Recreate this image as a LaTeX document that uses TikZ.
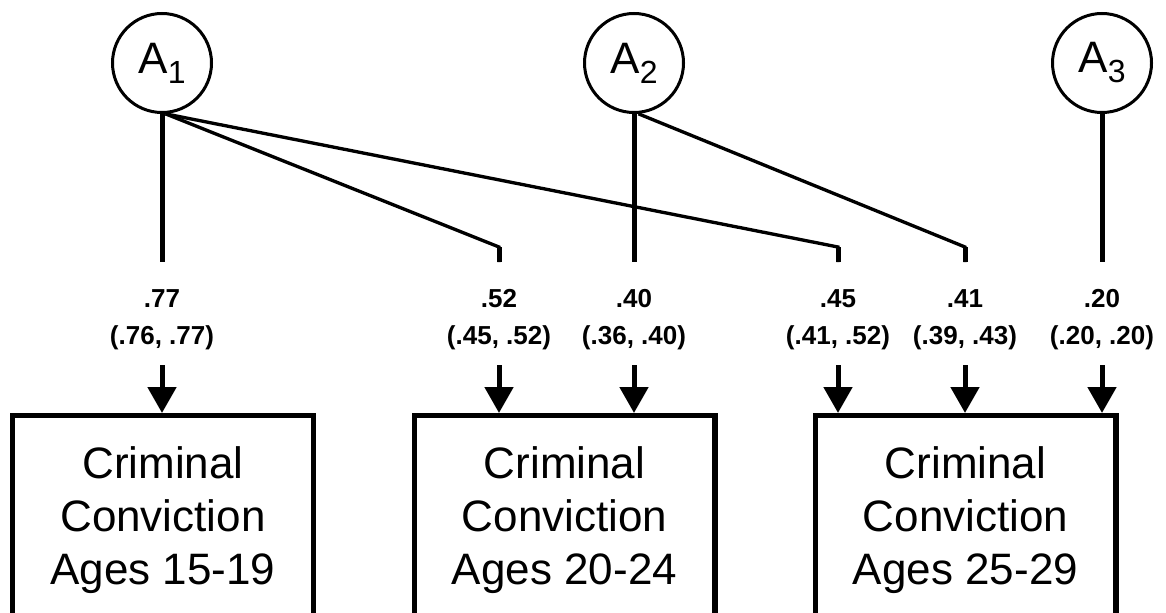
\documentclass[tikz,border=0pt]{standalone}
\usepackage{fontspec}
\setmainfont{Liberation Sans}
\usetikzlibrary{arrows.meta}
\newcommand\Asub[1]{A\raisebox{-7.5pt}{\fontsize{24}{24}\selectfont #1}}
\begin{document}
\begin{tikzpicture}[x=0.75pt,y=-0.75pt,
 latent/.style={circle,draw,line width=2.25pt,minimum size=74.25pt,inner sep=0pt,font=\fontsize{33}{33}\selectfont},
 obsbox/.style={rectangle,draw,line width=4.1pt,minimum width=225.4pt,minimum height=180pt,inner sep=0pt,anchor=north},
 boxtext/.style={align=center,font=\fontsize{33}{40}\selectfont},
 est/.style={align=center,font=\bfseries\fontsize{19.5}{27.75}\selectfont},
 vert/.style={line width=3.75pt},
 diag/.style={line width=2.5pt,line join=miter},
 arr/.style={line width=3.75pt,-{Triangle[width=21pt,length=19.5pt]}}]
\useasboundingbox (0,0) rectangle (1166,613);
\clip (0,0) rectangle (1166,613);

% latent factors
\node[latent] (A1) at (162,63) {\Asub{1}};
\node[latent] (A2) at (634,63) {\Asub{2}};
\node[latent] (A3) at (1102,63) {\Asub{3}};

% observed boxes
\node[obsbox] (B1) at (163,413) {};
\node[obsbox] (B2) at (564.5,413) {};
\node[obsbox] (B3) at (965.5,413) {};
\node[boxtext] (T1) at (163,520) {Criminal\\Conviction\\Ages 15-19};
\node[boxtext] (T2) at (564.5,520) {Criminal\\Conviction\\Ages 20-24};
\node[boxtext] (T3) at (965.5,520) {Criminal\\Conviction\\Ages 25-29};

% path end points
\coordinate (k1) at (162,262);
\coordinate (c2) at (499,247); \coordinate (k2) at (499,262);
\coordinate (k3) at (634,262);
\coordinate (c4) at (838,247); \coordinate (k4) at (838,262);
\coordinate (c5) at (965,247); \coordinate (k5) at (965,262);
\coordinate (k6) at (1102,262);

% loadings
\draw[vert] (A1.south) -- (k1);
\draw[diag] (A1.-86) -- (c2) -- (k2);
\draw[vert] (c2) -- (k2);
\draw[diag] (A1.-86) -- (c4) -- (k4);
\draw[vert] (c4) -- (k4);
\draw[vert] (A2.south) -- (k3);
\draw[diag] (A2.-85) -- (c5) -- (k5);
\draw[vert] (c5) -- (k5);
\draw[vert] (A3.south) -- (k6);

% estimates
\node[est] (E1) at (162,320) {.77\\(.76, .77)};
\node[est] (E2) at (499,320) {.52\\(.45, .52)};
\node[est] (E3) at (634,320) {.40\\(.36, .40)};
\node[est] (E4) at (838,320) {.45\\(.41, .52)};
\node[est] (E5) at (965,320) {.41\\(.39, .43)};
\node[est] (E6) at (1102,320) {.20\\(.20, .20)};

% arrows
\coordinate (s1) at (162,365);
\coordinate (s2) at (499,365);
\coordinate (s3) at (634,365);
\coordinate (s4) at (838,365);
\coordinate (s5) at (965,365);
\coordinate (s6) at (1102,365);
\draw[arr] (s1) -- (s1 |- B1.north);
\draw[arr] (s2) -- (s2 |- B2.north);
\draw[arr] (s3) -- (s3 |- B2.north);
\draw[arr] (s4) -- (s4 |- B3.north);
\draw[arr] (s5) -- (s5 |- B3.north);
\draw[arr] (s6) -- (s6 |- B3.north);
\end{tikzpicture}
\end{document}
